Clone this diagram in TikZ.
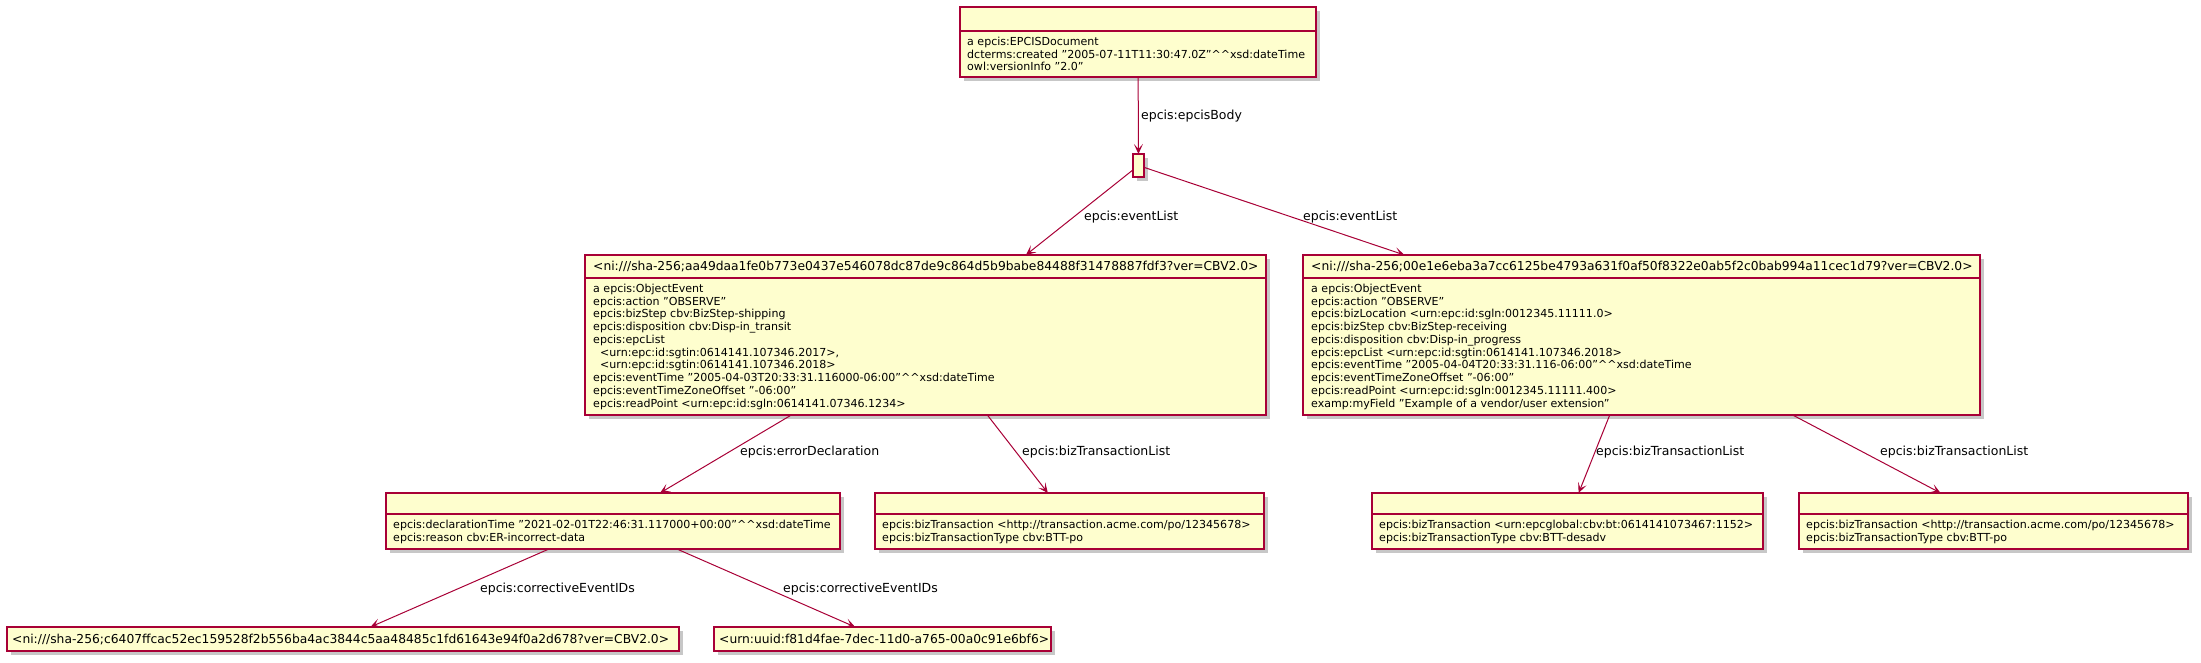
\documentclass[tikz,border=0pt]{standalone}
\usepackage{fontspec}
\setmainfont{DejaVu Sans}
\usetikzlibrary{arrows.meta,positioning,shadows}
\definecolor{umlfill}{RGB}{254,254,206}
\definecolor{umlred}{RGB}{168,0,54}
\newcommand{\xsdDT}{\textasciicircum\textasciicircum xsd:dateTime}

\begin{document}
\begin{tikzpicture}[
    x=1pt, y=-1pt,
    obj/.style={draw=umlred, fill=umlfill, line width=1.5pt, anchor=north west,
        inner sep=0pt, outer sep=0pt,
        drop shadow={shadow xshift=4pt, shadow yshift=-4pt, fill=black, opacity=0.22}},
    sep/.style={draw=umlred, line width=1.5pt},
    hdr/.style={anchor=base west, inner sep=0pt, font=\fontsize{12.3}{14}\selectfont},
    body/.style={anchor=north west, inner sep=0pt, align=left, font=\fontsize{11.05}{12.75}\selectfont},
    lbl/.style={anchor=west, inner sep=0pt, font=\fontsize{12.5}{15}\selectfont},
    arrow/.style={-{Stealth[length=10pt, width=9pt, inset=5pt]}, draw=umlred, line width=1pt}
]
\useasboundingbox (0,0) rectangle (2201,663);

% Document
\node[obj, minimum width=356, minimum height=70] (doc) at (960,7) {};
\draw[sep] ([yshift=-24]doc.north west) -- ([yshift=-24]doc.north east);
\node[body] (docB) at ([xshift=7, yshift=-29.7]doc.north west)
    {a epcis:EPCISDocument\\dcterms:created "2005-07-11T11:30:47.0Z"\xsdDT\\owl:versionInfo "2.0"};

% Body
\node[obj, minimum width=11, minimum height=23] (hub) at (1133,154) {};

% Events
\node[obj, minimum width=681, minimum height=160] (ev1) at (585,255) {};
\draw[sep] ([yshift=-23]ev1.north west) -- ([yshift=-23]ev1.north east);
\node[hdr] (ev1H) at ([xshift=8, yshift=-15.5]ev1.north west)
    {<ni:///sha-256;aa49daa1fe0b773e0437e546078dc87de9c864d5b9babe84488f31478887fdf3?ver=CBV2.0>};
\node[body] (ev1B) at ([xshift=8, yshift=-28.7]ev1.north west)
    {a epcis:ObjectEvent\\
     epcis:action "OBSERVE"\\
     epcis:bizStep cbv:BizStep-shipping\\
     epcis:disposition cbv:Disp-in\_transit\\
     epcis:epcList\\
     \hspace*{7pt}<urn:epc:id:sgtin:0614141.107346.2017>,\\
     \hspace*{7pt}<urn:epc:id:sgtin:0614141.107346.2018>\\
     epcis:eventTime "2005-04-03T20:33:31.116000-06:00"\xsdDT\\
     epcis:eventTimeZoneOffset "-06:00"\\
     epcis:readPoint <urn:epc:id:sgln:0614141.07346.1234>};

\node[obj, minimum width=677, minimum height=160] (ev2) at (1303,255) {};
\draw[sep] ([yshift=-23]ev2.north west) -- ([yshift=-23]ev2.north east);
\node[hdr] (ev2H) at ([xshift=8, yshift=-15.5]ev2.north west)
    {<ni:///sha-256;00e1e6eba3a7cc6125be4793a631f0af50f8322e0ab5f2c0bab994a11cec1d79?ver=CBV2.0>};
\node[body] (ev2B) at ([xshift=8, yshift=-28.7]ev2.north west)
    {a epcis:ObjectEvent\\
     epcis:action "OBSERVE"\\
     epcis:bizLocation <urn:epc:id:sgln:0012345.11111.0>\\
     epcis:bizStep cbv:BizStep-receiving\\
     epcis:disposition cbv:Disp-in\_progress\\
     epcis:epcList <urn:epc:id:sgtin:0614141.107346.2018>\\
     epcis:eventTime "2005-04-04T20:33:31.116-06:00"\xsdDT\\
     epcis:eventTimeZoneOffset "-06:00"\\
     epcis:readPoint <urn:epc:id:sgln:0012345.11111.400>\\
     examp:myField "Example of a vendor/user extension"};

% Error declaration and transactions
\node[obj, minimum width=454, minimum height=56] (err) at (386,493) {};
\draw[sep] ([yshift=-21]err.north west) -- ([yshift=-21]err.north east);
\node[body] (errB) at ([xshift=7, yshift=-26.7]err.north west)
    {epcis:declarationTime "2021-02-01T22:46:31.117000+00:00"\xsdDT\\
     epcis:reason cbv:ER-incorrect-data};

\node[obj, minimum width=389, minimum height=56] (btx1) at (875,493) {};
\draw[sep] ([yshift=-21]btx1.north west) -- ([yshift=-21]btx1.north east);
\node[body] (btx1B) at ([xshift=7, yshift=-26.7]btx1.north west)
    {epcis:bizTransaction <http://transaction.acme.com/po/12345678>\\
     epcis:bizTransactionType cbv:BTT-po};

\node[obj, minimum width=391, minimum height=56] (btx2) at (1372,493) {};
\draw[sep] ([yshift=-21]btx2.north west) -- ([yshift=-21]btx2.north east);
\node[body] (btx2B) at ([xshift=7, yshift=-26.7]btx2.north west)
    {epcis:bizTransaction <urn:epcglobal:cbv:bt:0614141073467:1152>\\
     epcis:bizTransactionType cbv:BTT-desadv};

\node[obj, minimum width=389, minimum height=56] (btx3) at (1799,493) {};
\draw[sep] ([yshift=-21]btx3.north west) -- ([yshift=-21]btx3.north east);
\node[body] (btx3B) at ([xshift=7, yshift=-26.7]btx3.north west)
    {epcis:bizTransaction <http://transaction.acme.com/po/12345678>\\
     epcis:bizTransactionType cbv:BTT-po};

% Corrective event IDs
\node[obj, minimum width=672, minimum height=24] (cor1) at (7,627) {};
\node[hdr] (cor1H) at ([xshift=5, yshift=-16.4]cor1.north west)
    {<ni:///sha-256;c6407ffcac52ec159528f2b556ba4ac3844c5aa48485c1fd61643e94f0a2d678?ver=CBV2.0>};
\node[obj, minimum width=337, minimum height=24] (cor2) at (714,627) {};
\node[hdr] (cor2H) at ([xshift=5, yshift=-16.4]cor2.north west)
    {<urn:uuid:f81d4fae-7dec-11d0-a765-00a0c91e6bf6>};

% Edges
\draw[arrow] (doc) -- (hub);
\draw[arrow] (hub) -- (ev1);
\draw[arrow] (hub) -- (ev2);
\draw[arrow] (ev1) -- (err);
\draw[arrow] (ev1) -- (btx1);
\draw[arrow] (ev2) -- (btx2);
\draw[arrow] (ev2) -- (btx3);
\draw[arrow] (err) -- (cor1);
\draw[arrow] (err) -- (cor2);

% Edge labels
\node[lbl] (lBody) at (1141,116) {epcis:epcisBody};
\node[lbl] (lEv1) at (1084,217) {epcis:eventList};
\node[lbl] (lEv2) at (1303,217) {epcis:eventList};
\node[lbl] (lErr) at (740,452) {epcis:errorDeclaration};
\node[lbl] (lBtx1) at (1022,452) {epcis:bizTransactionList};
\node[lbl] (lBtx2) at (1596,452) {epcis:bizTransactionList};
\node[lbl] (lBtx3) at (1880,452) {epcis:bizTransactionList};
\node[lbl] (lCor1) at (480,589) {epcis:correctiveEventIDs};
\node[lbl] (lCor2) at (783,589) {epcis:correctiveEventIDs};
\end{tikzpicture}
\end{document}
